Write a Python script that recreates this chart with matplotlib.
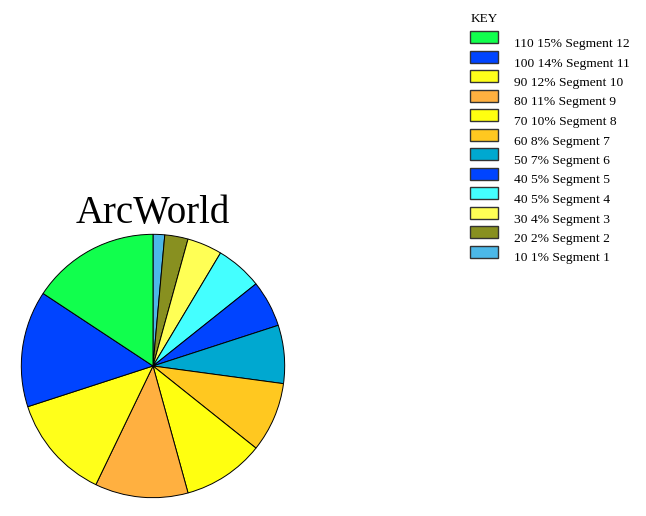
import matplotlib
matplotlib.use("Agg")
import matplotlib.pyplot as plt
from matplotlib.patches import Rectangle

plt.rcParams['font.family'] = ['Liberation Serif', 'DejaVu Serif']

labels = ["Segment 1", "Segment 2", "Segment 3", "Segment 4", "Segment 5", "Segment 6",
          "Segment 7", "Segment 8", "Segment 9", "Segment 10", "Segment 11", "Segment 12"]
values = [10, 20, 30, 40, 40, 50, 60, 70, 80, 90, 100, 110]
colors = ["#4cb8e8", "#889020", "#ffff55", "#44ffff", "#0044ff", "#00a8d0",
          "#ffc820", "#ffff10", "#ffb040", "#ffff1a", "#0044ff", "#11ff4d"]

W, H = 646, 516
fig = plt.figure(figsize=(W / 100, H / 100), dpi=100)

# pie: centre (153, 366), radius ~133 px
cx, cy, r = 153, 366, 133
ax = fig.add_axes([(cx - r) / W, (H - cy - r) / H, 2 * r / W, 2 * r / H])
ax.pie(values, colors=colors, startangle=90, counterclock=False,
       wedgeprops=dict(edgecolor="black", linewidth=0.7))
ax.set_aspect("equal")
ax.set_xlim(-1.01, 1.01)
ax.set_ylim(-1.01, 1.01)

fig.text(cx / W, 1 - 213 / H, "ArcWorld", fontsize=28, ha="center", va="center")

# legend (largest first)
lax = fig.add_axes([0, 0, 1, 1])
lax.set_xlim(0, W)
lax.set_ylim(H, 0)
lax.axis("off")
lax.text(471, 19, "KEY", fontsize=9.5, va="center", ha="left")
total = sum(values)
for i, k in enumerate(reversed(range(len(values)))):
    y = 37 + i * 19.5
    lax.add_patch(Rectangle((470, y - 6), 28, 12, facecolor=colors[k],
                            edgecolor="#333333", linewidth=1))
    pct = int(100 * values[k] / total)
    lax.text(514, y + 7, f"{values[k]} {pct}% {labels[k]}", fontsize=9.7,
             va="center", ha="left")

fig.savefig("out.png", dpi=100)
